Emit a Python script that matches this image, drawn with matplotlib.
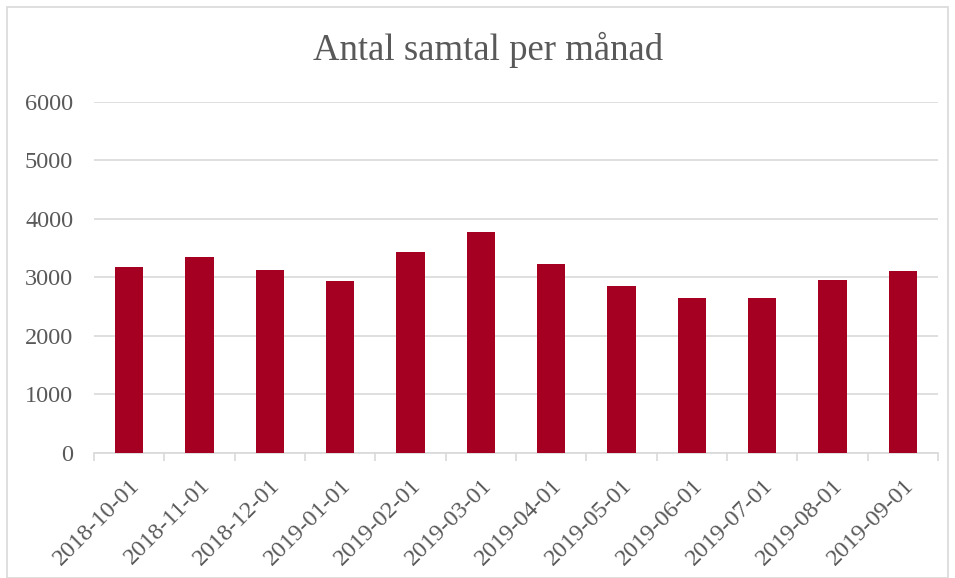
import matplotlib
matplotlib.use("Agg")
import matplotlib.pyplot as plt
from matplotlib.patches import Rectangle

months = ["2018-10-01", "2018-11-01", "2018-12-01", "2019-01-01",
          "2019-02-01", "2019-03-01", "2019-04-01", "2019-05-01",
          "2019-06-01", "2019-07-01", "2019-08-01", "2019-09-01"]
calls = [3172, 3350, 3132, 2938, 3441, 3784, 3235, 2852, 2640, 2640, 2961, 3103]
y_ticks = [0, 1000, 2000, 3000, 4000, 5000, 6000]

BAR = "#a50021"
GRID = "#d9d9d9"
TEXT = "#595959"

plt.rcParams["font.family"] = ["Liberation Serif", "DejaVu Serif"]

fig = plt.figure(figsize=(9.55, 5.78), dpi=100)
ax = fig.add_axes([94 / 955, 1 - 452.7 / 578, 844 / 955, (452.7 - 102) / 578])

x = list(range(len(months)))
ax.bar(x, calls, width=0.4, color=BAR, zorder=3)

ax.set_xlim(-0.5, len(months) - 0.5)
ax.set_ylim(0, 6000)
ax.set_yticks(y_ticks)
ax.set_yticklabels([str(v) for v in y_ticks], fontsize=17.5, color=TEXT)
ax.tick_params(axis="y", length=0, pad=15)
ax.yaxis.grid(True, color=GRID, linewidth=1.2, zorder=0)

ax.set_xticks(x)
ax.set_xticklabels(months, rotation=45, ha="right", rotation_mode="anchor",
                   fontsize=17.5, color=TEXT)
ax.tick_params(axis="x", length=0, pad=16)
# boundary ticks between categories
ax.set_xticks([i - 0.5 for i in range(len(months) + 1)], minor=True)
ax.tick_params(axis="x", which="minor", length=6, color=GRID, width=1.2)

for s in ["top", "right", "left"]:
    ax.spines[s].set_visible(False)
ax.spines["bottom"].set_color(GRID)
ax.spines["bottom"].set_linewidth(1.2)

fig.text(488 / 955, 1 - 60 / 578, "Antal samtal per månad", ha="center",
         va="baseline", fontsize=26.5, color=TEXT)

fig.patches.append(Rectangle((7 / 955, 0), 941 / 955, 1 - 7 / 578,
                             transform=fig.transFigure, fill=False,
                             edgecolor=GRID, linewidth=1.2))

fig.savefig("out.png", dpi=100)
